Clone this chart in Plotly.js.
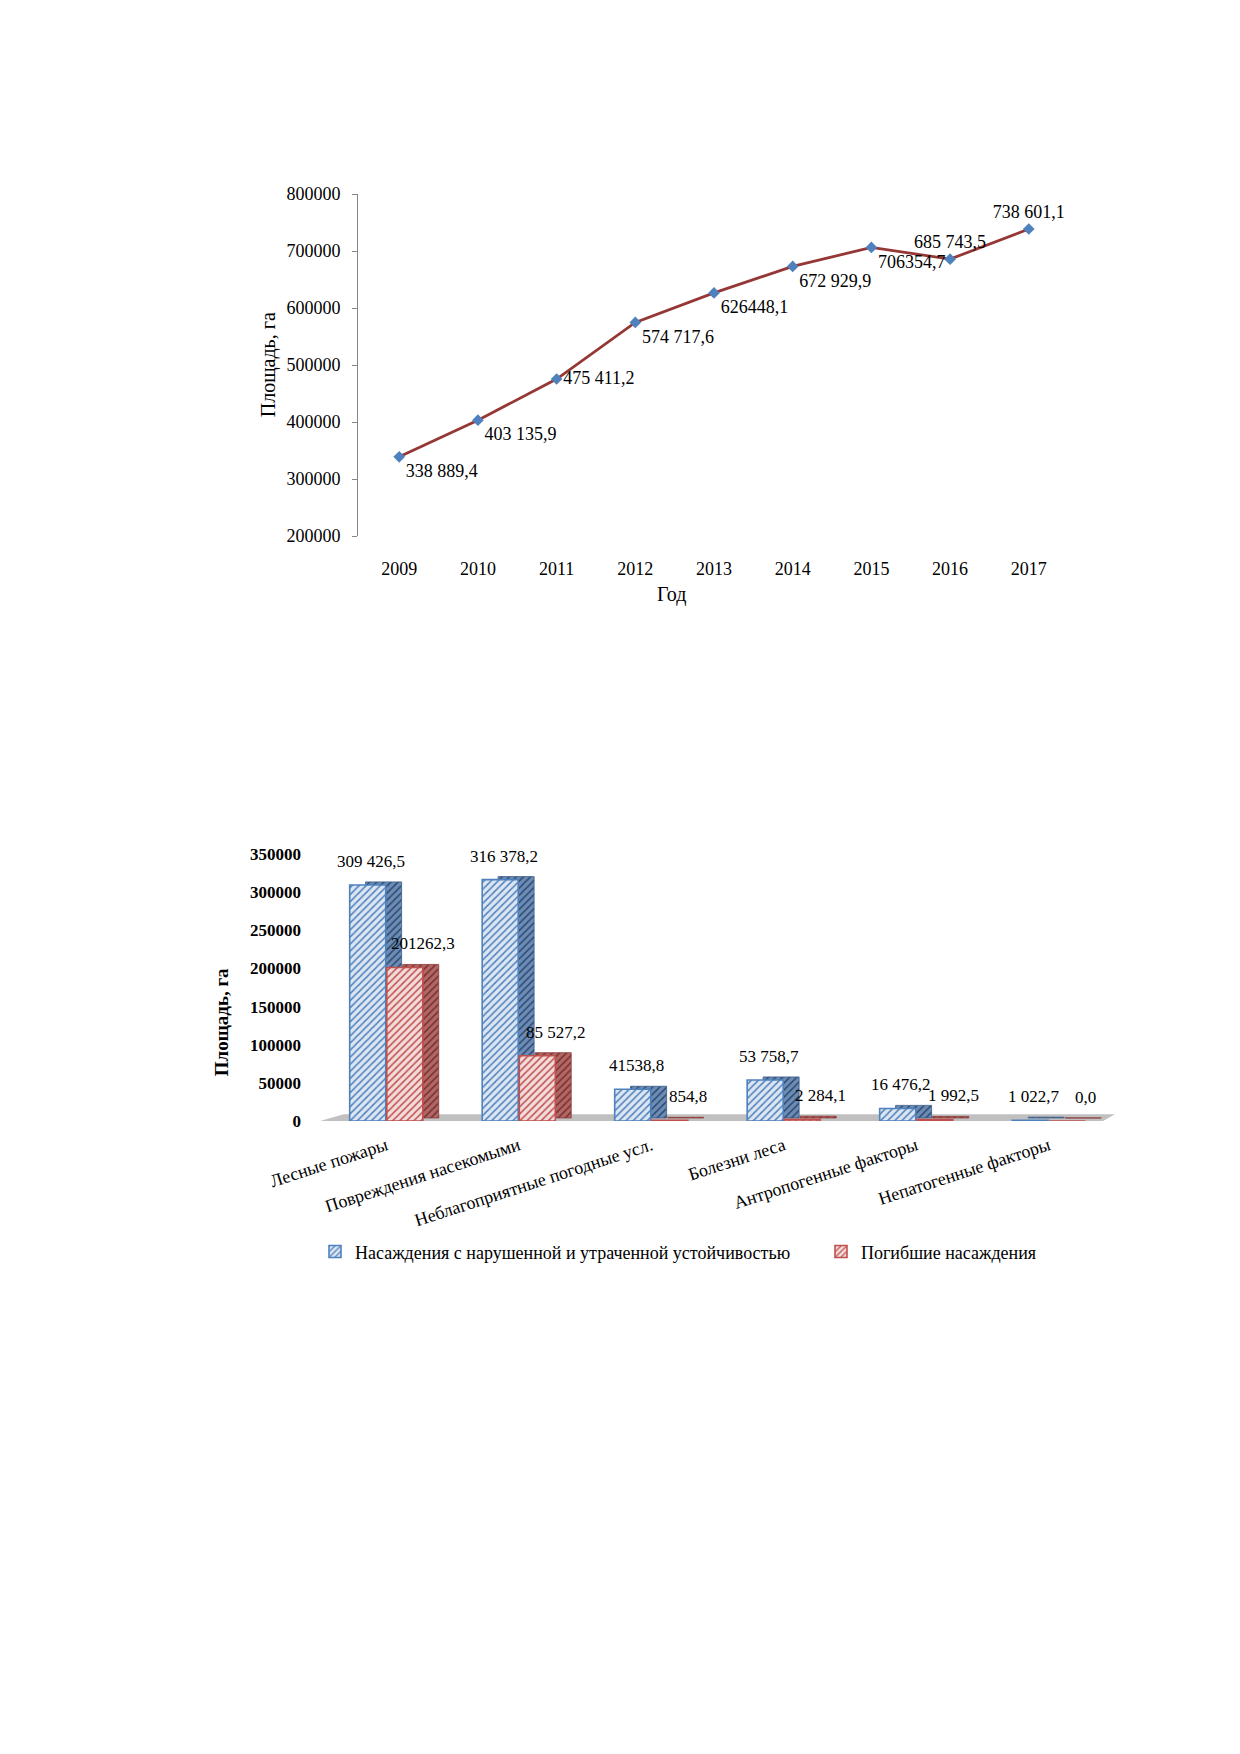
<!DOCTYPE html>
<html>
<head>
<meta charset="utf-8">
<script src="https://cdn.plot.ly/plotly-3.0.1.min.js"></script>
<style>
  html, body { margin: 0; padding: 0; background: #fff; }
  body { width: 1240px; height: 1754px; position: relative; overflow: hidden; }
  #area-chart   { position: absolute; left: 0; top: 0;   width: 1240px; height: 640px; }
  #damage-chart { position: absolute; left: 0; top: 800px; width: 1240px; height: 500px; }
</style>
</head>
<body>
<div id="area-chart"></div>
<div id="damage-chart"></div>
<script>
// ── Data ──────────────────────────────────────────────────────────────────────
const years  = ['2009','2010','2011','2012','2013','2014','2015','2016','2017'];
const areaHa = [338889.4, 403135.9, 475411.2, 574717.6, 626448.1, 672929.9, 706354.7, 685743.5, 738601.1];
const areaLabels = ['338 889,4','403 135,9','475 411,2','574 717,6','626448,1','672 929,9','706354,7','685 743,5','738 601,1'];

const causes = ['Лесные пожары','Повреждения насекомыми','Неблагоприятные погодные усл.','Болезни леса','Антропогенные факторы','Непатогенные факторы'];
const weakened = [309426.5, 316378.2, 41538.8, 53758.7, 16476.2, 1022.7];
const dead     = [201262.3, 85527.2, 854.8, 2284.1, 1992.5, 0.0];
const weakenedLabels = ['309 426,5','316 378,2','41538,8','53 758,7','16 476,2','1 022,7'];
const deadLabels     = ['201262,3','85 527,2','854,8','2 284,1','1 992,5','0,0'];
const seriesNames = ['Насаждения с нарушенной и утраченной устойчивостью','Погибшие насаждения'];

const SERIF = 'Liberation Serif, Times New Roman, serif';

// ── Chart 1: area line ───────────────────────────────────────────────────────
function buildAreaChart() {
  const el = document.getElementById('area-chart');
  Plotly.newPlot(el, [{
    x: years, y: areaHa,
    mode: 'lines+markers+text',
    text: areaLabels,
    textposition: ['bottom right','bottom right','middle right','bottom right','bottom right',
                   'bottom right','bottom right','top center','top center'],
    textfont: { family: SERIF, size: 18, color: '#000' },
    line: { color: '#953735', width: 2.8 },
    marker: { symbol: 'diamond', size: 9, color: '#4f81bd', line: { width: 0 } },
    cliponaxis: false, hoverinfo: 'skip', showlegend: false,
  }], {
    paper_bgcolor: '#fff', plot_bgcolor: '#fff',
    font: { family: SERIF, color: '#000', size: 18 },
    margin: { t: 194, r: 170, b: 104, l: 358 },
    xaxis: {
      type: 'category', showline: false, showgrid: false, zeroline: false,
      ticks: '', ticklabelstandoff: 20, tickfont: { size: 18 },
    },
    yaxis: {
      range: [200000, 800000], dtick: 100000, tickformat: 'd',
      showline: true, linecolor: '#868686', linewidth: 1,
      ticks: 'outside', ticklen: 5, tickcolor: '#868686',
      showgrid: false, zeroline: false, ticklabelstandoff: 8, tickfont: { size: 18 },
    },
    annotations: [
      { text: 'Площадь, га', textangle: -90, xref: 'paper', yref: 'paper',
        x: -0.126, y: 0.5, xanchor: 'center', yanchor: 'middle',
        showarrow: false, font: { size: 20 } },
      { text: 'Год', xref: 'paper', yref: 'paper',
        x: 0.441, y: -0.1725, xanchor: 'center', yanchor: 'middle',
        showarrow: false, font: { size: 20 } },
    ],
  }, { displayModeBar: false, staticPlot: true });
}

// ── Chart 2: pseudo-3D hatched bars ──────────────────────────────────────────
function buildDamageChart() {
  const el = document.getElementById('damage-chart');
  const DX = 0.12;     // depth shift, category units
  const DY = 4000;     // depth lift, data units
  const W  = 0.272;

  const hatch = (fg, bg) => ({ shape: '/', fgcolor: fg, bgcolor: bg, size: 5, solidity: 0.3, fillmode: 'replace' });

  const mkBar = (ys, off, base, fg, bg, edge, name, legend) => ({
    type: 'bar', x: causes, y: ys, base: base, offset: off, width: W,
    name: name, showlegend: legend, hoverinfo: 'skip',
    marker: { color: bg, pattern: hatch(fg, bg), line: { color: edge, width: legend ? 1.6 : 0.8 } },
  });

  const traces = [
    // side / top faces (behind)
    mkBar(weakened, -0.276 + DX, DY, '#2c4a70', '#6d8cb5', '#385d8a', '', false),
    mkBar(dead,      0.004 + DX, DY, '#7a2e2c', '#b06866', '#8c3836', '', false),
    // front faces
    mkBar(weakened, -0.276, 0, '#4f81bd', '#dce6f2', '#4f81bd', seriesNames[0], true),
    mkBar(dead,      0.004, 0, '#c0504d', '#f2dcdb', '#c0504d', seriesNames[1], true),
  ];

  const labelAnn = (vals, txt, xs) => vals.map((v, i) => ({
    x: causes[i], y: v, text: txt[i], xref: 'x', yref: 'y',
    xshift: xs, yshift: 12, yanchor: 'bottom', showarrow: false,
    font: { family: SERIF, size: 17, color: '#000' },
  }));

  Plotly.newPlot(el, traces, {
    paper_bgcolor: '#fff', plot_bgcolor: 'rgba(0,0,0,0)',
    font: { family: SERIF, color: '#000', size: 16 },
    margin: { t: 54, r: 125, b: 179, l: 320, autoexpand: false },
    barmode: 'overlay',
    xaxis: {
      type: 'category', range: [-0.5, 5.5], showline: false, showgrid: false, zeroline: false,
      ticks: '', tickangle: -18, ticklabelstandoff: 10, tickfont: { size: 18 },
    },
    yaxis: {
      range: [0, 350000], dtick: 50000, tickformat: 'd',
      showline: false, showgrid: false, zeroline: false, ticks: '',
      ticklabelstandoff: 18, tickfont: { size: 17, weight: 'bold' },
    },
    shapes: [{
      type: 'path', xref: 'paper', yref: 'y', layer: 'below',
      path: 'M 0,0 L 0.985,0 L 1,9000 L 0.03,9000 Z',
      fillcolor: '#c0c0c0', line: { width: 0 },
    }],
    legend: {
      orientation: 'h', x: -0.0063, y: -0.49, xanchor: 'left', yanchor: 'middle',
      entrywidth: 461, entrywidthmode: 'pixels', itemwidth: 30,
      bgcolor: 'rgba(0,0,0,0)',
      font: { family: SERIF, size: 18 }, traceorder: 'normal',
    },
    annotations: [
      ...labelAnn(weakened, weakenedLabels, -15),
      ...labelAnn(dead, deadLabels, 37),
      { text: '<b>Площадь, га</b>', textangle: -90, xref: 'paper', yref: 'paper',
        x: -0.123, y: 0.371, xanchor: 'center', yanchor: 'middle',
        showarrow: false, font: { size: 19 } },
    ],
  }, { displayModeBar: false, staticPlot: true });
}

buildAreaChart();
buildDamageChart();
</script>
</body>
</html>
